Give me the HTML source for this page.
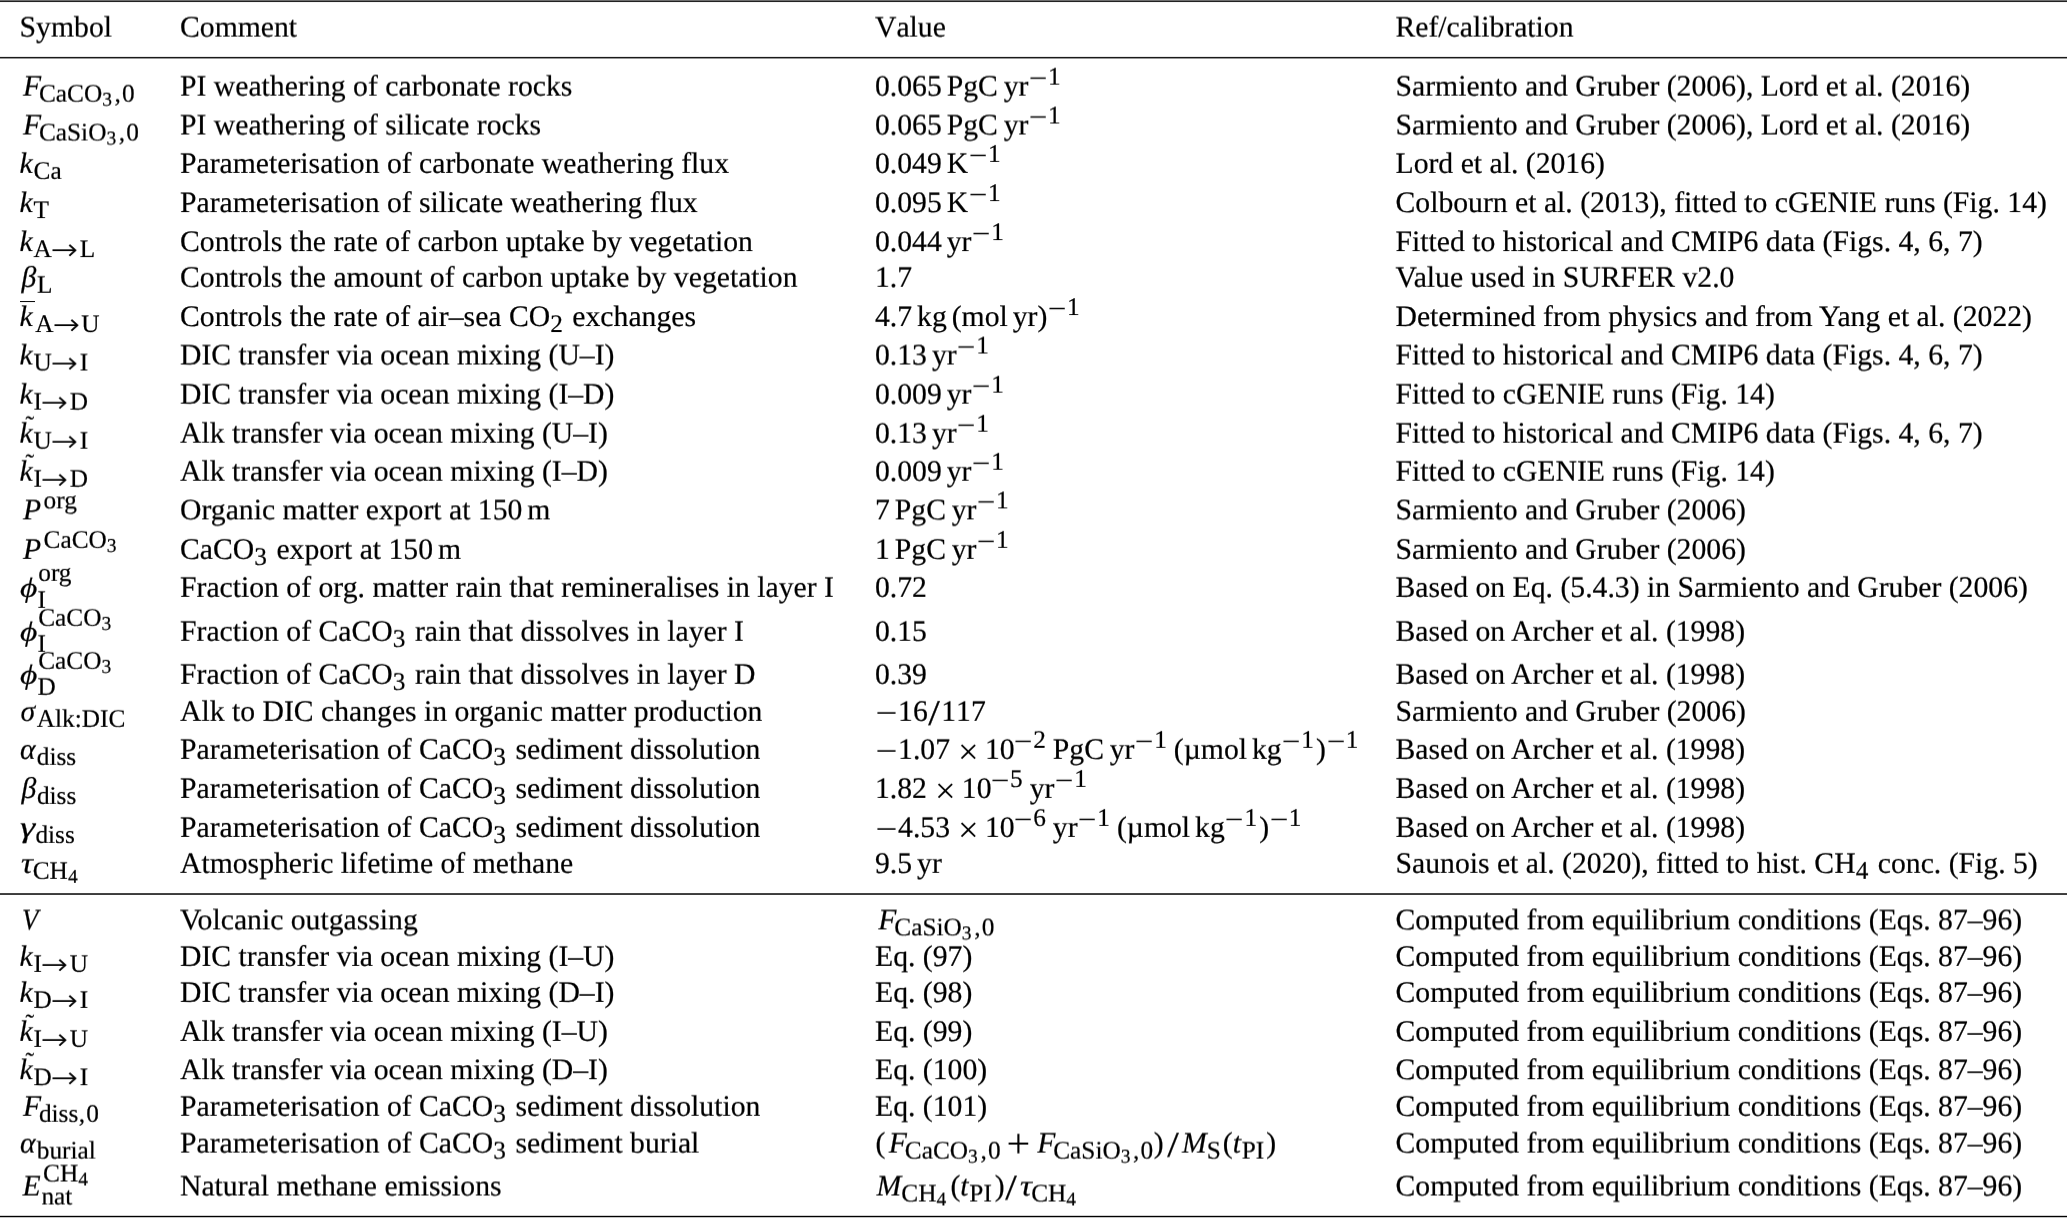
<!DOCTYPE html>
<html lang="en"><head><meta charset="utf-8"><title>Model parameters</title>
<style>
html,body{margin:0;padding:0;background:#fff}
body{width:2067px;height:1218px;overflow:hidden;position:relative;
font-family:"Liberation Serif",serif;font-size:29.7px;color:#000;line-height:0;
text-rendering:geometricPrecision;-webkit-text-stroke:0.2px #000}
.r{position:absolute;left:0;width:2067px;height:0;transform-origin:0 0}
.r>span{position:absolute;top:0;white-space:pre;line-height:0}
.s{left:19.6px} .c{left:180.0px} .v{left:875.0px;font-kerning:none} .f{left:1395.5px}
i{font-style:italic}
sub,sup{font-size:25.3px;line-height:0;position:relative;vertical-align:baseline;margin-right:2.1px}
sub{top:5.5px} sup{top:-10.8px}
sub.n{top:5.6px}
sub.ss{font-size:19.5px;top:4.2px;margin-right:2.1px}
sub.z{display:inline-block;width:0;margin-right:0}
.sp,.ts{display:inline-block}
.ts{width:4.95px}
.mn{display:inline-block;transform:scaleX(1.28);margin:0 0.107em;position:relative;top:0.06em}
.tm{display:inline-block;margin:0 0.282em 0 0.329em;transform:translateY(2.9px) scale(1.23);transform-origin:50% 0;-webkit-text-stroke:0}
.sl{display:inline-block;margin:0 2.6px;transform:translateY(2.1px) scale(1.4,1.22);transform-origin:50% 0}
.pl{display:inline-block;margin:0 0.329em;transform:translateY(1.2px) scale(1.42);transform-origin:50% 0;-webkit-text-stroke:0}
.ar{display:inline-block;width:27.8px;height:0;position:relative}
.ar>b{position:absolute;left:-0.6px;top:-6.6px;font-family:"DejaVu Sans",sans-serif;font-weight:200;font-size:28.0px;line-height:0;-webkit-text-stroke:0.4px #000;transform:scaleX(1.14);transform-origin:0 0}
.til{display:inline-block;width:0;position:relative;left:6.0px;top:-9.2px;font-size:26.0px}
.bar{display:inline-block;width:15.0px;height:1.3px;margin-right:-15.0px;background:#000;position:relative;left:0.2px;top:-24.2px}
.op{margin-left:0px}
.cm{margin:0 1.2px 0 0.5px}
i.F{margin:0 -2.1px 0 3.3px}
i.k{margin:0 0.8px 0 0px}
i.gb{margin:0 0.5px 0 2.0px}
i.P{margin:0 2.5px 0 3.3px}
i.ph{margin:0 2.1px 0 0.4px;display:inline-block;transform:scale(1.13,0.94);transform-origin:0 9.5px}
i.gs{margin:0 1.7px 0 0.8px}
i.ga{margin:0 1.2px 0 0.4px}
i.gg{margin:0 3.3px 0 0.8px;display:inline-block;transform:scale(1.3,1);transform-origin:0 9.5px}
i.gt{margin:0 0.9px 0 1.6px;display:inline-block;transform:scale(1.12,1);transform-origin:0 9.5px}
i.V{margin:0 0px 0 2.5px;display:inline-block;transform:scale(0.9,1);transform-origin:0 9.5px}
i.E{margin:0 0.8px 0 2.9px}
i.M{margin:0 0px 0 1.6px}
i.t{margin:0 0.8px 0 0px}
.hr{position:absolute;left:0;width:2067px;height:1px}
</style></head><body>
<div class="hr" style="top:0px;background:#6e6e6e"></div>
<div class="hr" style="top:1px;background:#222"></div>
<div class="hr" style="top:2px;background:#f4f4f4"></div>
<div class="hr" style="top:56px;background:#e8e8e8"></div>
<div class="hr" style="top:57px;background:#1a1a1a"></div>
<div class="hr" style="top:58px;background:#999"></div>
<div class="hr" style="top:893px;background:#444"></div>
<div class="hr" style="top:894px;background:#3c3c3c"></div>
<div class="hr" style="top:1215px;background:#d0d0d0"></div>
<div class="hr" style="top:1216px;background:#000"></div>
<div class="hr" style="top:1217px;background:#c4c4c4"></div>
<div class="r" style="top:27px;transform:translateY(0.60px) perspective(100000px) rotateX(0.01deg)"><span class="s">Symbol</span><span class="c">Comment</span><span class="v">Value</span><span class="f">Ref/calibration</span></div>
<div class="r" style="top:86px;transform:translateY(0.65px) perspective(100000px) rotateX(0.01deg)"><span class="s"><i class="F">F</i><sub>CaCO<sub class="ss">3</sub><span class="cm">,</span>0</sub></span><span class="c">PI weathering of carbonate rocks</span><span class="v">0.065<span class="ts"></span>PgC<span class="sp" style="width:5.75px"></span>yr<sup><span class="mn">−</span>1</sup></span><span class="f">Sarmiento and Gruber (2006), Lord et al. (2016)</span></div>
<div class="r" style="top:125px;transform:translateY(0.50px) perspective(100000px) rotateX(0.01deg)"><span class="s"><i class="F">F</i><sub>CaSiO<sub class="ss">3</sub><span class="cm">,</span>0</sub></span><span class="c">PI weathering of silicate rocks</span><span class="v">0.065<span class="ts"></span>PgC<span class="sp" style="width:5.75px"></span>yr<sup><span class="mn">−</span>1</sup></span><span class="f">Sarmiento and Gruber (2006), Lord et al. (2016)</span></div>
<div class="r" style="top:163px;transform:translateY(0.90px) perspective(100000px) rotateX(0.01deg)"><span class="s"><i class="k">k</i><sub>Ca</sub></span><span class="c">Parameterisation of carbonate weathering flux</span><span class="v">0.049<span class="ts"></span>K<sup><span class="mn">−</span>1</sup></span><span class="f">Lord et al. (2016)</span></div>
<div class="r" style="top:203px;transform:translateY(0.10px) perspective(100000px) rotateX(0.01deg)"><span class="s"><i class="k">k</i><sub>T</sub></span><span class="c">Parameterisation of silicate weathering flux</span><span class="v">0.095<span class="ts"></span>K<sup><span class="mn">−</span>1</sup></span><span class="f">Colbourn et al. (2013), fitted to cGENIE runs (Fig. 14)</span></div>
<div class="r" style="top:242px;transform:translateY(0.10px) perspective(100000px) rotateX(0.01deg)"><span class="s"><i class="k">k</i><sub>A<span class="ar"><b>→</b></span>L</sub></span><span class="c">Controls the rate of carbon uptake by vegetation</span><span class="v">0.044<span class="ts"></span>yr<sup><span class="mn">−</span>1</sup></span><span class="f">Fitted to historical and CMIP6 data (Figs. 4, 6, 7)</span></div>
<div class="r" style="top:277px;transform:translateY(0.80px) perspective(100000px) rotateX(0.01deg)"><span class="s"><i class="gb">β</i><sub>L</sub></span><span class="c">Controls the amount of carbon uptake by vegetation</span><span class="v">1.7</span><span class="f">Value used in SURFER v2.0</span></div>
<div class="r" style="top:317px;transform:translateY(0.05px) perspective(100000px) rotateX(0.01deg)"><span class="s"><span class="bar"></span><i class="k">k</i><span class="sp" style="width:1.6px"></span><sub>A<span class="ar"><b>→</b></span>U</sub></span><span class="c">Controls the rate of air–sea CO<sub class="n">2</sub> exchanges</span><span class="v">4.7<span class="ts"></span>kg<span class="ts"></span>(mol<span class="ts"></span>yr)<sup><span class="mn">−</span>1</sup></span><span class="f">Determined from physics and from Yang et al. (2022)</span></div>
<div class="r" style="top:355px;transform:translateY(0.50px) perspective(100000px) rotateX(0.01deg)"><span class="s"><i class="k">k</i><sub>U<span class="ar"><b>→</b></span>I</sub></span><span class="c">DIC transfer via ocean mixing (U–I)</span><span class="v">0.13<span class="ts"></span>yr<sup><span class="mn">−</span>1</sup></span><span class="f">Fitted to historical and CMIP6 data (Figs. 4, 6, 7)</span></div>
<div class="r" style="top:394px;transform:translateY(0.65px) perspective(100000px) rotateX(0.01deg)"><span class="s"><i class="k">k</i><sub>I<span class="ar"><b>→</b></span>D</sub></span><span class="c">DIC transfer via ocean mixing (I–D)</span><span class="v">0.009<span class="ts"></span>yr<sup><span class="mn">−</span>1</sup></span><span class="f">Fitted to cGENIE runs (Fig. 14)</span></div>
<div class="r" style="top:433px;transform:translateY(0.70px) perspective(100000px) rotateX(0.01deg)"><span class="s"><span class="til">˜</span><i class="k">k</i><sub>U<span class="ar"><b>→</b></span>I</sub></span><span class="c">Alk transfer via ocean mixing (U–I)</span><span class="v">0.13<span class="ts"></span>yr<sup><span class="mn">−</span>1</sup></span><span class="f">Fitted to historical and CMIP6 data (Figs. 4, 6, 7)</span></div>
<div class="r" style="top:471px;transform:translateY(0.75px) perspective(100000px) rotateX(0.01deg)"><span class="s"><span class="til">˜</span><i class="k">k</i><sub>I<span class="ar"><b>→</b></span>D</sub></span><span class="c">Alk transfer via ocean mixing (I–D)</span><span class="v">0.009<span class="ts"></span>yr<sup><span class="mn">−</span>1</sup></span><span class="f">Fitted to cGENIE runs (Fig. 14)</span></div>
<div class="r" style="top:510px;transform:translateY(0.40px) perspective(100000px) rotateX(0.01deg)"><span class="s"><i class="P">P</i><sup>org</sup></span><span class="c">Organic matter export at 150<span class="ts"></span>m</span><span class="v">7<span class="ts"></span>PgC<span class="sp" style="width:5.75px"></span>yr<sup><span class="mn">−</span>1</sup></span><span class="f">Sarmiento and Gruber (2006)</span></div>
<div class="r" style="top:549px;transform:translateY(0.85px) perspective(100000px) rotateX(0.01deg)"><span class="s"><i class="P">P</i><sup>CaCO<sub class="ss">3</sub></sup></span><span class="c">CaCO<sub class="n">3</sub> export at 150<span class="ts"></span>m</span><span class="v">1<span class="ts"></span>PgC<span class="sp" style="width:5.75px"></span>yr<sup><span class="mn">−</span>1</sup></span><span class="f">Sarmiento and Gruber (2006)</span></div>
<div class="r" style="top:587px;transform:translateY(0.85px) perspective(100000px) rotateX(0.01deg)"><span class="s"><i class="ph">ϕ</i><sub class="z" style="top:11.1px">I</sub><sup style="top:-15.6px;margin-left:0.8px">org</sup></span><span class="c">Fraction of org. matter rain that remineralises in layer I</span><span class="v">0.72</span><span class="f">Based on Eq. (5.4.3) in Sarmiento and Gruber (2006)</span></div>
<div class="r" style="top:631px;transform:translateY(0.80px) perspective(100000px) rotateX(0.01deg)"><span class="s"><i class="ph">ϕ</i><sub class="z" style="top:10.7px">I</sub><sup style="top:-15.3px;margin-left:0.8px">CaCO<sub class="ss">3</sub></sup></span><span class="c">Fraction of CaCO<sub class="n">3</sub> rain that dissolves in layer I</span><span class="v">0.15</span><span class="f">Based on Archer et al. (1998)</span></div>
<div class="r" style="top:674px;transform:translateY(0.80px) perspective(100000px) rotateX(0.01deg)"><span class="s"><i class="ph">ϕ</i><sub class="z" style="top:10.7px">D</sub><sup style="top:-15.3px;margin-left:0.8px">CaCO<sub class="ss">3</sub></sup></span><span class="c">Fraction of CaCO<sub class="n">3</sub> rain that dissolves in layer D</span><span class="v">0.39</span><span class="f">Based on Archer et al. (1998)</span></div>
<div class="r" style="top:711px;transform:translateY(0.85px) perspective(100000px) rotateX(0.01deg)"><span class="s"><i class="gs">σ</i><sub>Alk:DIC</sub></span><span class="c">Alk to DIC changes in organic matter production</span><span class="v"><span class="mn">−</span>16<span class="sl">/</span>117</span><span class="f">Sarmiento and Gruber (2006)</span></div>
<div class="r" style="top:749px;transform:translateY(0.85px) perspective(100000px) rotateX(0.01deg)"><span class="s"><i class="ga">α</i><sub>diss</sub></span><span class="c">Parameterisation of CaCO<sub class="n">3</sub> sediment dissolution</span><span class="v"><span class="mn">−</span>1.07<span class="tm">×</span>10<span class="sp" style="margin-left:-1.2px"></span><sup><span class="mn">−</span>2</sup><span class="ts"></span>PgC<span class="sp" style="width:5.75px"></span>yr<sup><span class="mn">−</span>1</sup><span class="ts"></span>(µmol<span class="ts"></span>kg<sup><span class="mn">−</span>1</sup>)<sup><span class="mn">−</span>1</sup></span><span class="f">Based on Archer et al. (1998)</span></div>
<div class="r" style="top:788px;transform:translateY(0.90px) perspective(100000px) rotateX(0.01deg)"><span class="s"><i class="gb">β</i><sub>diss</sub></span><span class="c">Parameterisation of CaCO<sub class="n">3</sub> sediment dissolution</span><span class="v">1.82<span class="tm">×</span>10<span class="sp" style="margin-left:-1.2px"></span><sup><span class="mn">−</span>5</sup><span class="ts"></span>yr<sup><span class="mn">−</span>1</sup></span><span class="f">Based on Archer et al. (1998)</span></div>
<div class="r" style="top:827px;transform:translateY(0.90px) perspective(100000px) rotateX(0.01deg)"><span class="s"><i class="gg">γ</i><sub>diss</sub></span><span class="c">Parameterisation of CaCO<sub class="n">3</sub> sediment dissolution</span><span class="v"><span class="mn">−</span>4.53<span class="tm">×</span>10<span class="sp" style="margin-left:-1.2px"></span><sup><span class="mn">−</span>6</sup><span class="ts"></span>yr<sup><span class="mn">−</span>1</sup><span class="ts"></span>(µmol<span class="ts"></span>kg<sup><span class="mn">−</span>1</sup>)<sup><span class="mn">−</span>1</sup></span><span class="f">Based on Archer et al. (1998)</span></div>
<div class="r" style="top:863px;transform:translateY(0.85px) perspective(100000px) rotateX(0.01deg)"><span class="s"><i class="gt">τ</i><sub>CH<sub class="ss">4</sub></sub></span><span class="c">Atmospheric lifetime of methane</span><span class="v">9.5<span class="ts"></span>yr</span><span class="f">Saunois et al. (2020), fitted to hist. CH<sub class="n">4</sub> conc. (Fig. 5)</span></div>
<div class="r" style="top:920px;transform:translateY(0.40px) perspective(100000px) rotateX(0.01deg)"><span class="s"><i class="V">V</i></span><span class="c">Volcanic outgassing</span><span class="v"><i class="F">F</i><sub>CaSiO<sub class="ss">3</sub><span class="cm">,</span>0</sub></span><span class="f">Computed from equilibrium conditions (Eqs. 87–96)</span></div>
<div class="r" style="top:956px;transform:translateY(0.90px) perspective(100000px) rotateX(0.01deg)"><span class="s"><i class="k">k</i><sub>I<span class="ar"><b>→</b></span>U</sub></span><span class="c">DIC transfer via ocean mixing (I–U)</span><span class="v">Eq. (97)</span><span class="f">Computed from equilibrium conditions (Eqs. 87–96)</span></div>
<div class="r" style="top:992px;transform:translateY(0.90px) perspective(100000px) rotateX(0.01deg)"><span class="s"><i class="k">k</i><sub>D<span class="ar"><b>→</b></span>I</sub></span><span class="c">DIC transfer via ocean mixing (D–I)</span><span class="v">Eq. (98)</span><span class="f">Computed from equilibrium conditions (Eqs. 87–96)</span></div>
<div class="r" style="top:1031px;transform:translateY(0.90px) perspective(100000px) rotateX(0.01deg)"><span class="s"><span class="til">˜</span><i class="k">k</i><sub>I<span class="ar"><b>→</b></span>U</sub></span><span class="c">Alk transfer via ocean mixing (I–U)</span><span class="v">Eq. (99)</span><span class="f">Computed from equilibrium conditions (Eqs. 87–96)</span></div>
<div class="r" style="top:1070px;transform:translateY(0.20px) perspective(100000px) rotateX(0.01deg)"><span class="s"><span class="til">˜</span><i class="k">k</i><sub>D<span class="ar"><b>→</b></span>I</sub></span><span class="c">Alk transfer via ocean mixing (D–I)</span><span class="v">Eq. (100)</span><span class="f">Computed from equilibrium conditions (Eqs. 87–96)</span></div>
<div class="r" style="top:1106px;transform:translateY(0.80px) perspective(100000px) rotateX(0.01deg)"><span class="s"><i class="F">F</i><sub>diss<span class="cm">,</span>0</sub></span><span class="c">Parameterisation of CaCO<sub class="n">3</sub> sediment dissolution</span><span class="v">Eq. (101)</span><span class="f">Computed from equilibrium conditions (Eqs. 87–96)</span></div>
<div class="r" style="top:1143px;transform:translateY(0.60px) perspective(100000px) rotateX(0.01deg)"><span class="s"><i class="ga">α</i><sub>burial</sub></span><span class="c">Parameterisation of CaCO<sub class="n">3</sub> sediment burial</span><span class="v"><span class="sp" style="width:0.6px"></span><span class="op">(</span><i class="F">F</i><sub>CaCO<sub class="ss">3</sub><span class="cm">,</span>0</sub><span class="sp" style="margin-left:-2.0px"></span><span class="pl">+</span><span class="sp" style="margin-left:-3.1px"></span><i class="F">F</i><sub>CaSiO<sub class="ss">3</sub><span class="cm">,</span>0</sub><span class="sp" style="margin-left:-1.6px"></span>)<span class="sp" style="width:2.5px"></span><span class="sl">/</span><span class="sp" style="width:0.8px"></span><i class="M">M</i><sub>S</sub><span class="op">(</span><i class="t">t</i><sub>PI</sub>)</span><span class="f">Computed from equilibrium conditions (Eqs. 87–96)</span></div>
<div class="r" style="top:1186px;transform:translateY(0.50px) perspective(100000px) rotateX(0.01deg)"><span class="s"><i class="E">E</i><sub class="z" style="top:8.75px">nat</sub><sup style="top:-14.3px;margin-left:1.6px">CH<sub class="ss">4</sub></sup></span><span class="c">Natural methane emissions</span><span class="v"><i class="M">M</i><sub>CH<sub class="ss">4</sub></sub><span class="op">(</span><i class="t">t</i><sub>PI</sub><span class="sp" style="width:0.8px"></span>)<span class="sl">/</span><i class="gt">τ</i><sub>CH<sub class="ss">4</sub></sub></span><span class="f">Computed from equilibrium conditions (Eqs. 87–96)</span></div>
</body></html>
